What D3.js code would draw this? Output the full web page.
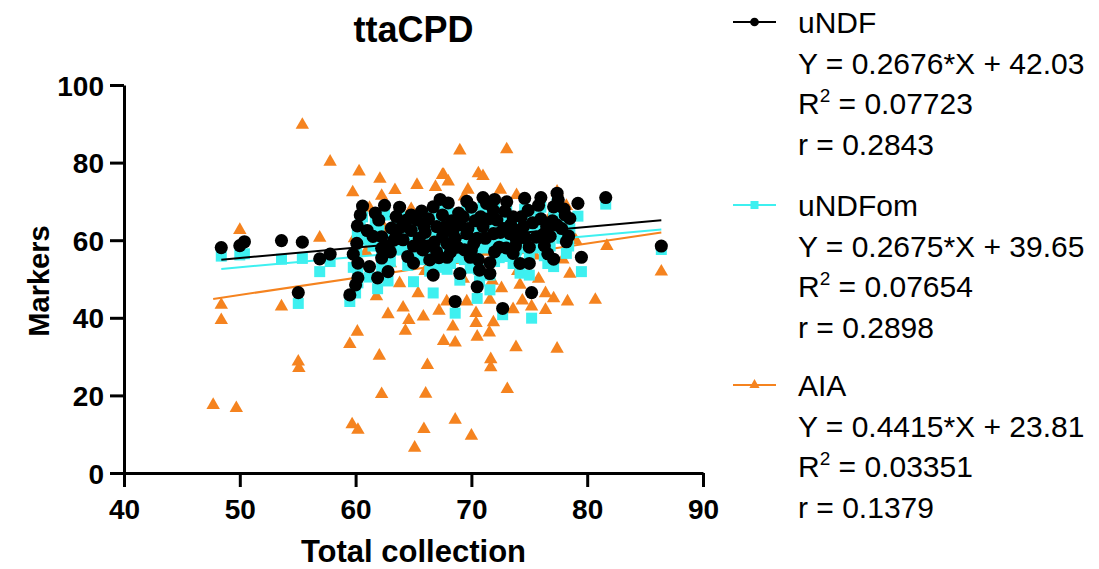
<!DOCTYPE html>
<html><head><meta charset="utf-8">
<script src="https://cdn.jsdelivr.net/npm/d3@7"></script>
<style>
html,body{margin:0;padding:0;background:#fff;}
svg{display:block;font-family:"Liberation Sans",Arial,Helvetica,sans-serif;}
</style></head>
<body><svg id="chart" width="1099" height="569"></svg>
<script>
// ---- data ----
const title = "ttaCPD";
const xTitle = "Total collection";
const yTitle = "Markers";
const xTicks = [40, 50, 60, 70, 80, 90];
const yTicks = [0, 20, 40, 60, 80, 100];
const seriesNames = ["uNDF", "uNDFom", "AIA"];
const slopes = [0.2676, 0.2675, 0.4415];
const intercepts = [42.03, 39.65, 23.81];
const r2Values = ["0.07723", "0.07654", "0.03351"];
const rValues = ["0.2843", "0.2898", "0.1379"];
const slopeLabels = ["0.2676", "0.2675", "0.4415"];
const interceptLabels = ["42.03", "39.65", "23.81"];

const fiberX = [48.4,50.0,50.4,53.6,55.05,55.4,56.9,57.8,59.5,60.0,59.8,60.1,60.15,60.4,60.6,60.2,60.2,61.2,61.9,62.8,
62.0,62.25,62.25,62.25,63.8,63.5,63.1,64.4,65.3,64.1,65.0,65.8,66.4,66.7,66.7,67.5,67.0,67.5,68.0,67.7,
68.4,67.9,68.8,67.9,69.0,69.9,70.2,69.6,70.8,71.0,72.0,71.9,72.2,71.9,72.4,71.6,71.6,70.7,73.05,73.6,
73.3,73.9,73.6,74.6,74.9,74.5,75.0,74.2,75.0,75.6,76.3,76.5,77.1,77.4,77.5,77.4,77.1,78.4,78.2,78.5,
79.2,79.5,81.6,86.4,68.6,70.5,72.7,75.2,69.3,70.0,66.0,65.0,63.0,64.8,69.0,70.5,68.2,76.0,74.0,72.8,
66.2,61.5,76.8,71.3,73.0,67.0,63.5,70.0,64.5,78.0,
62.8,63.3,64.0,64.8,65.5,65.9,66.3,66.8,67.2,68.3,68.6,68.9,69.4,69.7,70.3,70.6,71.2,71.5,72.0,72.5,
72.9,73.4,73.8,74.3,74.7,75.3,75.8,76.2,76.6,77.0,77.8,78.1,61.0,61.7,62.5,65.7,69.6,71.0,76.0,67.3];
const uNDF = [58.1,58.6,59.6,59.9,46.5,59.5,55.2,56.4,45.9,48.5,56.4,59.2,63.7,66.5,68.8,54.1,50.3,53.2,50.3,51.9,
65.2,60.9,57.9,55.4,68.5,66.1,63.1,65.2,65.2,60.1,54.1,57.5,54.9,51.0,68.6,66.5,63.5,60.9,69.6,63.5,
62.2,59.1,58.2,55.6,51.4,55.6,59.1,61.7,66.0,63.5,70.5,67.7,65.2,61.7,58.2,54.2,51.4,52.3,69.9,66.0,
61.7,60.0,56.6,70.8,67.7,63.5,58.2,54.0,54.0,60.8,58.6,63.5,68.6,72.1,70.4,63.9,55.1,61.1,59.6,65.6,
69.5,55.6,71.0,58.5,44.2,48.0,42.4,46.5,66.0,68.5,62.0,58.5,57.0,62.5,64.0,60.5,57.0,65.5,62.5,63.0,
58.5,61.0,61.0,69.5,58.0,57.0,62.0,57.5,55.8,68.0,
58.5,60.0,63.5,66.5,60.5,63.5,65.5,59.5,55.5,65.0,60.5,67.0,57.5,63.0,65.0,55.0,60.5,65.5,57.0,62.0,
67.5,64.0,58.5,66.0,60.5,64.5,69.0,61.5,56.5,65.0,63.0,66.5,62.5,67.0,69.0,67.5,70.0,71.0,71.0,70.5];
const uNDFom = [55.9,56.2,56.5,55.1,43.7,55.3,51.9,54.5,44.2,46.4,53.0,57.0,61.9,64.0,66.0,51.5,49.0,50.5,47.5,49.5,
62.5,58.0,55.5,53.0,66.5,63.5,60.5,62.0,62.5,57.5,49.3,55.0,52.0,46.4,66.5,64.0,61.0,58.5,67.0,60.8,
59.5,56.0,55.5,52.5,49.7,52.8,56.5,59.0,63.5,61.0,68.0,65.0,62.5,59.0,55.5,51.0,47.2,49.5,67.5,63.5,
59.0,57.5,54.0,68.0,65.0,61.0,55.5,51.5,51.0,58.0,56.0,61.0,66.0,69.5,67.5,61.5,53.2,58.5,56.6,63.0,
66.2,51.9,69.3,57.6,41.2,45.0,40.8,39.9,63.0,66.0,59.5,56.0,54.5,60.5,61.5,58.0,54.0,63.0,60.0,60.5,
56.5,58.5,58.5,67.0,55.8,54.5,59.8,55.0,53.5,65.5,
56.0,57.5,61.0,64.0,58.0,61.0,63.0,57.0,53.0,62.5,58.0,64.5,55.0,60.5,62.5,52.5,58.0,63.0,54.5,59.5,
65.0,61.5,56.0,63.5,58.0,62.0,66.5,59.0,54.0,62.5,60.5,64.0,60.0,64.5,66.5,65.0,67.5,68.5,68.5,68.0];

const aiaX = [47.7,49.7,48.4,48.4,50.0,53.6,55.4,55.05,55.1,56.9,57.8,59.5,60.15,62.05,62.25,59.7,60.2,62.8,64.1,64.6,
64.3,65.85,67.2,67.6,66.2,66.05,65.9,65.1,63.8,65.4,60.3,62.1,63.4,65.3,66.9,67.5,59.75,62.25,61.2,67.87,
69.6,70.4,70.4,71.9,71.55,70.5,68.6,68.4,73.85,77.4,71.67,71.67,73.1,68.6,70.0,71.6,73.6,74.4,76.4,77.1,
78.3,76.4,75.2,74.2,72.6,69.0,73.05,67.6,70.6,71.0,68.0,69.7,69.4,73.9,77.4,78.2,81.7,86.4,78.5,80.7,
62.5,64.2,66.0,68.5,70.0,71.2,72.8,74.0,75.5,76.8,78.0,73.0,66.5,60.9,63.0,69.3,71.8,75.8,77.9,79.0,
67.8,64.8,72.5,59.9,61.8];
const aia = [17.5,16.7,43.3,39.4,62.6,42.9,89.7,28.7,27.0,60.6,80.2,33.2,36.4,30.2,20.3,12.5,11.1,40.9,42.6,39.4,
36.6,40.3,41.8,34.0,27.8,20.4,11.3,6.5,48.9,46.3,77.7,75.8,72.9,74.2,73.7,76.8,72.3,71.4,68.3,44.2,
44.2,41.2,38.6,38.8,36.2,35.1,33.6,37.7,32.4,32.0,29.3,27.2,21.6,13.7,9.6,44.6,42.2,44.4,46.3,45.0,
44.2,42.0,42.9,48.5,47.6,83.1,83.4,76.8,77.2,76.5,75.1,73.0,71.2,71.6,72.5,68.8,58.5,51.9,51.3,44.6,
63.0,58.0,52.0,55.0,62.0,57.0,60.0,52.0,56.0,66.0,62.0,66.0,60.0,57.0,54.0,50.0,49.5,50.0,55.0,60.0,
66.0,68.0,73.0,60.5,45.5];

// ---- styles ----
const colors = ["#000000", "#3ef0f0", "#f5831f"];
const svg = d3.select("#chart");
const x = d3.scaleLinear().domain([40, 90]).range([124, 703]);
const y = d3.scaleLinear().domain([0, 100]).range([473, 85]);

const seriesPts = [
  fiberX.map((v, i) => [v, uNDF[i]]),
  fiberX.map((v, i) => [v, uNDFom[i]]),
  aiaX.map((v, i) => [v, aia[i]])
];
const symbols = [d3.symbolCircle, d3.symbolSquare, d3.symbolTriangle];
const symSizes = [135, 121, 78];

function drawPoints(k) {
  svg.append("g").selectAll("path").data(seriesPts[k]).join("path")
    .attr("transform", d => `translate(${x(d[0])},${y(d[1])})`)
    .attr("d", d3.symbol(symbols[k], symSizes[k]))
    .attr("fill", colors[k]);
}
function drawLine(k) {
  const xs = seriesPts[k].map(d => d[0]);
  const [x0, x1] = d3.extent(xs);
  svg.append("line")
    .attr("x1", x(x0)).attr("y1", y(slopes[k] * x0 + intercepts[k]))
    .attr("x2", x(x1)).attr("y2", y(slopes[k] * x1 + intercepts[k]))
    .attr("stroke", colors[k]).attr("stroke-width", 2);
}
drawPoints(2); drawLine(2);
drawPoints(1); drawLine(1);
drawLine(0); drawPoints(0);

// axes
const xAxis = svg.append("g").attr("transform", "translate(0,473)")
  .call(d3.axisBottom(x).tickValues(xTicks).tickSize(14).tickSizeOuter(0).tickPadding(6));
const yAxis = svg.append("g").attr("transform", "translate(124,0)")
  .call(d3.axisLeft(y).tickValues(yTicks).tickSize(14).tickSizeOuter(0).tickPadding(6));
[xAxis, yAxis].forEach(g => {
  g.select(".domain").attr("stroke", "#000").attr("stroke-width", 3);
  g.selectAll(".tick line").attr("stroke", "#000").attr("stroke-width", 3);
  g.selectAll(".tick text").attr("fill", "#000").attr("font-size", 28).attr("font-weight", "bold")
    .attr("font-family", "'Liberation Sans',Arial,sans-serif");
});
xAxis.selectAll(".tick text").attr("dy", "0.92em");
yAxis.selectAll(".tick text").attr("dy", "0.36em");

// titles
svg.append("text").attr("x", 413.5).attr("y", 42).attr("text-anchor", "middle")
  .attr("font-size", 36).attr("font-weight", "bold").text(title);
svg.append("text").attr("x", 413.5).attr("y", 562).attr("text-anchor", "middle")
  .attr("font-size", 31).attr("font-weight", "bold").text(xTitle);
svg.append("text").attr("transform", "translate(49,281) rotate(-90)").attr("text-anchor", "middle")
  .attr("font-size", 29).attr("font-weight", "bold").text(yTitle);

// legend
const groupTop = [33, 216, 396];
const lineGap = 40.5;
const legSym = [60, 64, 45];
seriesNames.forEach((name, k) => {
  const b = groupTop[k];
  const g = svg.append("g");
  g.append("line").attr("x1", 733).attr("x2", 776).attr("y1", b - 11).attr("y2", b - 11)
    .attr("stroke", colors[k]).attr("stroke-width", 2);
  g.append("path").attr("transform", `translate(754.5,${b - 11})`)
    .attr("d", d3.symbol(symbols[k], legSym[k])).attr("fill", colors[k]);
  const t = (i) => g.append("text").attr("x", 798).attr("y", b + i * lineGap).attr("font-size", 30).attr("fill", "#000");
  t(0).text(name);
  t(1).text(`Y = ${slopeLabels[k]}*X + ${interceptLabels[k]}`);
  const r2 = t(2);
  r2.append("tspan").text("R");
  r2.append("tspan").attr("font-size", 19).attr("dy", -12).text("2");
  r2.append("tspan").attr("dy", 12).text(` = ${r2Values[k]}`);
  t(3).text(`r = ${rValues[k]}`);
});
</script></body></html>
